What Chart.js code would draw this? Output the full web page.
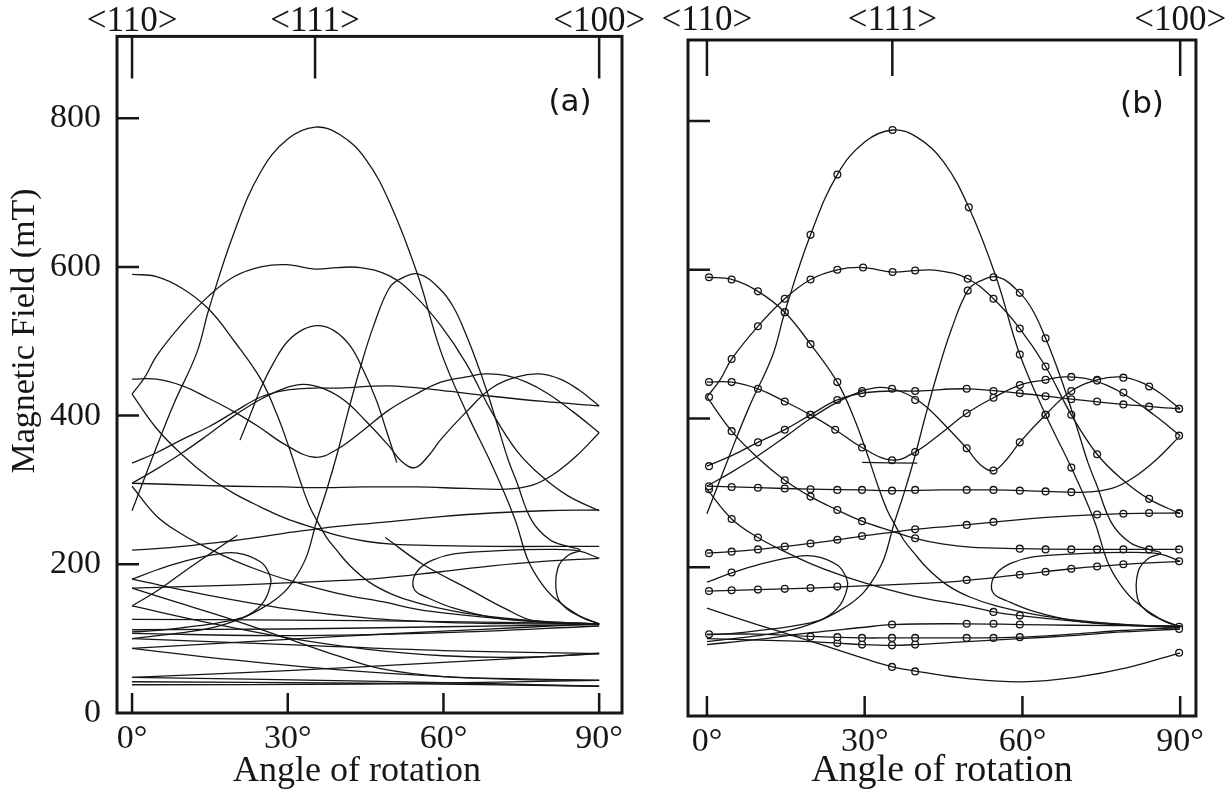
<!DOCTYPE html>
<html>
<head>
<meta charset="utf-8">
<script src="https://cdn.jsdelivr.net/npm/chart.js@4.4.1/dist/chart.umd.min.js"></script>
<style>
  html, body { margin: 0; padding: 0; background: #fff; }
  #simWrap { position: absolute; left: 0; top: 0; width: 650px; height: 789px; }
  #expWrap { position: absolute; left: 650px; top: 0; width: 575px; height: 789px; }
</style>
</head>
<body>
<div id="simWrap"><canvas id="simChart" width="650" height="789"></canvas></div>
<div id="expWrap"><canvas id="expChart" width="575" height="789"></canvas></div>
<script>
// axis marks
const angleTicks = [0, 30, 60, 90];
const fieldTicks = [0, 200, 400, 600, 800];
const dirAngles = [0, 35.26, 90];
const dirLabels = ['<110>', '<111>', '<100>'];

// resonance branches, [angle of rotation (deg), field (mT)]
const arch785 = [[0,272],[4.5,354],[8,415],[12.5,485],[14.8,543],[19.7,647],[24.8,728],[30,772],[35.3,788],[40,778],[45,745],[49.8,684],[55,590],[59.5,486],[64.4,405],[69.3,334],[73.7,262],[76.2,207],[78.5,178],[81.3,155],[86.3,130],[90,120]];
const plateau598 = [[0,429],[2.5,452],[4.7,480],[9.7,524],[14.8,561],[19.7,587],[24.8,600],[29.7,603],[35.3,597],[39.6,599],[44,599],[49.6,588],[54.5,561],[59.5,521],[64.4,470],[69.3,405],[74.2,352],[79,318],[84,292],[90,272]];
const desc590 = [[0,590],[4.7,587],[9.7,571],[14.8,543],[19.7,500],[24.8,449],[28,400],[30.5,352],[32.5,310],[34.2,278],[35.6,259],[37.5,236],[39.3,220],[42,198],[45.7,176],[50,160],[55,148],[62,137],[70,129],[80,123],[90,120]];
const arch588 = [[0,100],[5,104],[10.8,109],[15,114],[19,122],[22,130],[24.8,140],[27.5,152],[29.9,167],[32,188],[33.7,212],[35.6,259],[37.5,300],[39.5,348],[41.5,402],[44,465],[46.5,520],[49.6,572],[52,585],[55.4,590],[59.5,569],[62,545],[64.4,508],[66.3,474],[68.5,430],[70.5,385],[72.5,340],[74,313],[77,259],[80.5,233],[84,224],[86.3,219],[84,212],[82,194],[81.9,158],[83.8,140],[87,128],[90,120]];
const dip346 = [[0,449],[4.7,449],[9.7,440],[14.8,423],[19.7,405],[24.4,385],[29.5,361],[35.2,344],[39.6,355],[44.5,380],[49.4,407],[54.5,428],[59.5,445],[64.4,452],[68,456],[72,454],[76,445],[80,430],[85,405],[90,377]];
const flat435 = [[0,336],[4.7,350],[9.7,368],[14.8,385],[19.7,405],[24.8,425],[29.5,434],[35,437],[40,437],[49.4,440],[59.5,434],[69.3,426],[79.2,419],[90,413]];
const vCurve = [[0,309],[4.7,328],[9.7,350],[14.8,375],[19.7,400],[24.8,422],[29.5,437],[33,442],[37,436],[41,420],[45,393],[49.4,360],[52,338],[54.5,330],[57,345],[59.5,368],[64.4,405],[69.3,437],[74.2,452],[78.5,456],[82.5,449],[86,435],[90,413]];
const flat305 = [[0,309],[9.7,307],[19.7,305],[29.5,304],[35.2,303],[44.5,304],[54.5,304],[64.4,302],[72,301],[77,306],[81,320],[85.5,345],[90,377]];
const desc430 = [[0,429],[4.7,383],[9.7,347],[14.8,317],[19.7,295],[24.8,277],[29.5,262],[35,249],[39.6,239],[45,231],[50,227],[59.5,225],[70,224],[80,224],[90,224]];
const rise224 = [[0,219],[4.7,221],[9.7,224],[14.8,228],[19.7,232],[24.8,237],[29.5,242],[35,247],[39.6,251],[47.6,256],[59.5,264],[69.3,269],[79.2,272],[90,273]];
const desc305 = [[0,305],[4.7,265],[9.7,240],[14.8,221],[19.7,205],[24.8,191],[30,179],[39.6,161],[49.4,148],[54.5,140],[59.5,135],[69.3,128],[79.2,123],[90,120]];
const loopLeft = [[0,180],[5,193],[10,204],[15.8,213],[20.3,215],[24.8,203],[26.5,186],[26.7,173],[25.3,149],[22.2,131],[17.1,122],[10,115],[5,111],[0,109]];
const loopRight = [[90,208],[86,218],[80,220],[70,218],[62,214],[58,206],[55.5,195],[54.2,180],[54.5,165],[57,155],[62,141],[70,128],[80,122],[90,119]];
const rowL1 = [[0,168],[9.7,170],[19.7,172],[29.5,175],[39.6,178],[47.6,181],[59.5,190],[69.3,198],[79.2,204],[90,208]];

// branches only in the simulation
const arch521 = [[20.8,367],[23,405],[25,440],[27.5,474],[30,500],[33,516],[36,521],[39,514],[42,494],[44.5,462],[47,422],[49,380],[51,337]];
const part49 = [[48.8,236],[56,200],[64.8,167],[72,140],[77.5,124],[90,120]];
const part20 = [[0,144],[5,165],[10,190],[15,214],[20.3,239]];
const lowA = [[0,180],[15,158],[30,140],[45,128],[60,122],[75,120],[90,120]];
const lowB = [[0,144],[15,121],[30,101],[45,86],[60,77],[75,75],[90,80]];
const lowC = [[0,126],[30,125],[60,123],[90,120]];
const lowD = [[0,112],[30,113],[60,116],[90,119]];
const lowE = [[0,107],[30,104],[60,108],[90,117]];
const lowF = [[0,87],[20,95],[40,103],[60,110],[75,115],[90,120]];
const lowG = [[0,87],[20,71],[40,58],[60,49],[75,45],[90,44]];
const lowH = [[0,48],[30,57],[60,68],[90,80]];
const lowI = [[0,42],[45,40],[90,36]];
const lowJ = [[0,38],[45,39],[90,44]];
const lowL = [[0,168],[10,146],[20,124],[30,100],[40,76],[47.6,60],[60,49],[75,46],[90,44]];
const lowM = [[0,48],[45,43],[90,36]];
const lowN = [[0,100],[30,92],[60,84],[90,80]];

// branches only in the fit
const dipBar = [[29.5,341],[40,340]];
const fitLow = [[0,145],[10,122],[20,100],[30,77],[35.3,66],[40,60],[50,50],[60,46],[70,52],[80,65],[90,85]];
const row110 = [[0,110],[10,110],[19.7,107],[29.5,105],[35.2,105],[39.6,105],[49.4,105],[59.5,106],[69.3,110],[79.2,115],[90,119]];
const row96 = [[0,104],[10,102],[19.7,100],[24.8,98],[29.5,96],[35.2,95],[39.6,96],[49.4,100],[59.5,104],[69.3,108],[79.2,113],[90,117]];
const row123 = [[0,96],[9.7,103],[19.7,112],[29.5,119],[35.2,123],[49.4,124],[59.5,123],[69.3,122],[90,121]];

// measured resonances
const measArch785 = [[14.8,543],[19.7,647],[24.8,728],[35.3,788],[49.8,684],[59.5,486],[64.4,405],[69.3,334]];
const measPlateau = [[4.7,480],[9.7,524],[14.8,561],[19.7,587],[24.8,600],[29.7,603],[35.3,597],[39.6,599],[49.6,588],[54.5,561],[59.5,521],[64.4,470],[69.3,405],[74.2,352],[84.1,292],[89.8,272]];
const measDesc590 = [[0.4,590],[4.7,587],[9.7,571],[14.8,543],[19.7,500],[24.8,449]];
const measArch588 = [[49.6,572],[54.5,590],[59.5,569],[64.4,508]];
const measDip = [[0.4,449],[4.7,449],[9.7,440],[14.8,423],[19.7,405],[24.4,385],[29.5,361],[35.2,344],[39.6,355],[49.4,407],[54.5,428],[59.5,445],[64.4,452],[69.3,456],[74.2,451],[79.2,435],[89.8,377]];
const measFlat435 = [[0.4,336],[9.7,368],[14.8,385],[19.7,405],[24.8,425],[29.5,434],[39.6,437],[49.4,440],[54.5,437],[59.5,434],[64.4,430],[69.3,426],[74.2,423],[79.2,419],[84.1,416],[89.8,413]];
const measV = [[29.5,437],[35.2,440],[39.6,425],[49.4,360],[54.5,330],[59.5,368],[64.4,405],[69.3,437],[74.2,452],[79.2,455],[84.1,443],[89.8,413]];
const measFlat305 = [[0.4,309],[4.7,308],[9.7,307],[14.8,306],[19.7,305],[24.8,304],[29.5,304],[35.2,303],[39.6,304],[49.4,304],[54.5,304],[59.5,303],[64.4,302],[69.3,301]];
const measDesc430 = [[0.4,429],[4.7,383],[14.8,317],[19.7,295],[24.8,277],[29.5,262],[39.6,239],[59.5,225],[64.4,224],[69.3,224],[74.2,224],[79.2,224],[84.1,224],[89.8,224]];
const measRise = [[0.4,219],[4.7,221],[9.7,224],[14.8,228],[19.7,232],[24.8,237],[29.5,242],[39.6,251],[49.4,257],[54.5,261],[74.2,271],[79.2,272],[84.1,273],[89.8,273]];
const measDesc305 = [[0.4,305],[4.7,265],[9.7,240],[54.5,140],[59.5,135]];
const measRowL1 = [[0.4,168],[4.7,169],[9.7,170],[14.8,171],[19.7,172],[24.8,174],[49.4,183],[59.5,190],[64.4,194],[69.3,198],[74.2,201],[79.2,204],[89.8,208]];
const measRow110 = [[0.4,110],[19.7,107],[24.8,106],[29.5,105],[35.2,105],[39.6,105],[49.4,105],[54.5,105],[59.5,106]];
const measRow96 = [[24.8,98],[29.5,96],[35.2,95],[39.6,96]];
const measRow123 = [[35.2,123],[49.4,124],[54.5,124],[59.5,123]];
const measLow = [[35.2,66],[39.6,60],[89.8,85],[89.8,120],[89.8,117],[4.7,193]];

const commonCurves = [arch785, plateau598, desc590, arch588, dip346, flat435, vCurve, flat305, desc430, rise224, desc305, loopLeft, loopRight, rowL1];
const simCurves = [arch521, part49, part20, lowA, lowB, lowC, lowD, lowE, lowF, lowG, lowH, lowI, lowJ, lowL, lowM, lowN];
const fitCurves = [dipBar, fitLow, row110, row96, row123];
const measSets = [measArch785, measPlateau, measDesc590, measArch588, measDip, measFlat435, measV, measFlat305, measDesc430, measRise, measDesc305, measRowL1, measRow110, measRow96, measRow123, measLow];

const INK = '#161616';
const SERIF = '"Liberation Serif", "DejaVu Serif", serif';

const toXY = pts => pts.map(([x, y]) => ({ x, y }));

const lineSet = pts => ({
  data: toXY(pts),
  showLine: true,
  borderColor: INK,
  borderWidth: 1.3,
  pointRadius: 0,
  tension: 0.4,
  fill: false
});

const pointSet = pts => ({
  data: toXY(pts),
  showLine: false,
  pointRadius: 3.4,
  pointBorderWidth: 1.3,
  pointBorderColor: INK,
  pointBackgroundColor: '#fff'
});

// box frame, inward ticks, panel letter and axis titles
const framePlugin = {
  id: 'frame',
  afterDraw(chart, args, opts) {
    const { ctx, chartArea: a, scales } = chart;
    ctx.save();
    ctx.strokeStyle = INK;
    ctx.lineWidth = 3;
    ctx.strokeRect(a.left, a.top, a.right - a.left, a.bottom - a.top);
    ctx.lineWidth = 2.5;
    ctx.beginPath();
    scales.y.ticks.forEach(t => {
      if (t.value === 0) return;
      const y = scales.y.getPixelForValue(t.value);
      ctx.moveTo(a.left, y);
      ctx.lineTo(a.left + 22, y);
    });
    scales.x.ticks.forEach(t => {
      const x = scales.x.getPixelForValue(t.value);
      ctx.moveTo(x, a.bottom);
      ctx.lineTo(x, a.bottom - 20);
    });
    scales.x2.ticks.forEach(t => {
      const x = scales.x2.getPixelForValue(t.value);
      ctx.moveTo(x, a.top);
      ctx.lineTo(x, a.top + opts.topTick);
    });
    ctx.stroke();

    ctx.fillStyle = INK;
    ctx.textAlign = 'center';
    ctx.textBaseline = 'middle';
    ctx.font = '31px "DejaVu Sans", sans-serif';
    ctx.fillText(opts.letter, opts.letterX, opts.letterY);

    ctx.textBaseline = 'alphabetic';
    ctx.font = opts.xTitleSize + 'px ' + SERIF;
    ctx.fillText('Angle of rotation', opts.xTitleX, 781);

    if (opts.yTitle) {
      ctx.translate(34, 331);
      ctx.rotate(-Math.PI / 2);
      ctx.font = '34px ' + SERIF;
      ctx.fillText(opts.yTitle, 0, 0);
    }
    ctx.restore();
  }
};

function panelConfig(datasets, geo) {
  const tickFont = { family: SERIF, size: 34 };
  return {
    type: 'scatter',
    data: { datasets },
    options: {
      responsive: false,
      animation: false,
      events: [],
      layout: { padding: { left: 0, top: 0, bottom: 0, right: geo.padRight } },
      plugins: {
        legend: { display: false },
        tooltip: { enabled: false },
        frame: geo.frame
      },
      scales: {
        x: {
          type: 'linear',
          position: 'bottom',
          min: geo.xMin,
          max: geo.xMax,
          afterBuildTicks: s => { s.ticks = angleTicks.map(v => ({ value: v })); },
          afterFit: s => { s.height = geo.bottomH; },
          grid: { display: false, drawTicks: false },
          border: { display: false },
          ticks: { color: INK, font: tickFont, padding: 6, maxRotation: 0, autoSkip: false,
                   callback: v => v + '°' }
        },
        x2: {
          type: 'linear',
          axis: 'x',
          position: 'top',
          min: geo.xMin,
          max: geo.xMax,
          afterBuildTicks: s => { s.ticks = dirAngles.map(v => ({ value: v })); },
          afterFit: s => { s.height = geo.topH; },
          grid: { display: false, drawTicks: false },
          border: { display: false },
          ticks: { color: INK, font: { family: SERIF, size: 35 }, padding: geo.topPad, maxRotation: 0, autoSkip: false,
                   callback: (v, i) => dirLabels[i] }
        },
        y: {
          type: 'linear',
          position: 'left',
          min: 0,
          max: geo.yMax,
          afterBuildTicks: s => { s.ticks = fieldTicks.map(v => ({ value: v })); },
          afterFit: s => { s.width = geo.leftW; },
          grid: { display: false, drawTicks: false },
          border: { display: false },
          ticks: { display: geo.yLabels, color: INK, font: tickFont, padding: 16 }
        }
      }
    },
    plugins: [framePlugin]
  };
}

// (a) simulated angular dependence
new Chart(document.getElementById('simChart'), panelConfig(
  [...commonCurves, ...simCurves].map(lineSet),
  {
    xMin: -2.9, xMax: 94.4, yMax: 910, padRight: 28,
    leftW: 117, topH: 35, bottomH: 76, yLabels: true, topPad: -6,
    frame: { letter: '(a)', letterX: 570, letterY: 103, topTick: 42, xTitleX: 357, xTitleSize: 36,
             yTitle: 'Magnetic Field (mT)' }
  }
));

// (b) measured resonances with fitted branches
new Chart(document.getElementById('expChart'), panelConfig(
  [...commonCurves.map(lineSet), ...fitCurves.map(lineSet), ...measSets.map(pointSet)],
  {
    xMin: -3.6, xMax: 93.0, yMax: 909, padRight: 27,
    leftW: 38, topH: 40, bottomH: 73, yLabels: false, topPad: -2,
    frame: { letter: '(b)', letterX: 492, letterY: 105, topTick: 36, xTitleX: 292, xTitleSize: 38 }
  }
));
</script>
</body>
</html>
